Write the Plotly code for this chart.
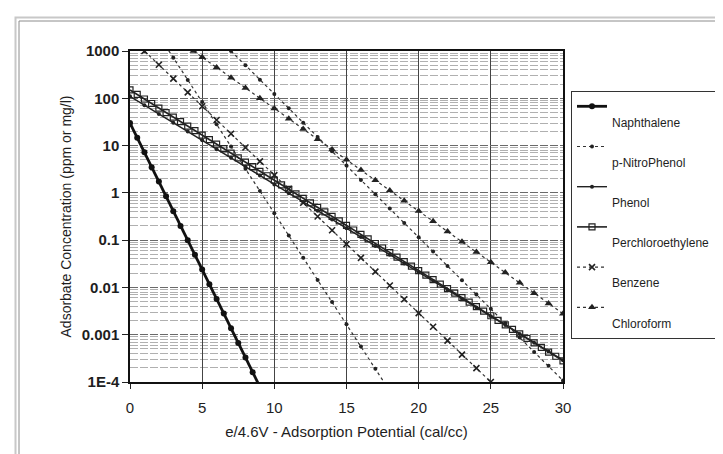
import plotly.graph_objects as go

# ---------------- data ----------------
x_naph = [0, 0.5, 1, 1.5, 2, 2.5, 3, 3.5, 4, 4.5, 5, 5.5, 6, 6.5, 7, 7.5, 8, 8.5, 9]
y_naph = [30, 14.7, 7.2, 3.5, 1.73, 0.85, 0.41, 0.20, 0.099, 0.049, 0.024, 0.0117,
          0.0057, 0.0028, 0.00137, 0.00067, 0.00033, 0.00016, 0.000079]

x_pnp = [2, 3, 4, 5, 6, 7, 8, 9, 10, 11, 12, 13, 14, 15, 16, 17, 18]
y_pnp = [2133, 723, 245, 83, 28.1, 9.5, 3.23, 1.09, 0.371, 0.126, 0.0426, 0.0144,
         0.00489, 0.00166, 0.00056, 0.00019, 0.000064]

x_phenol = list(range(0, 31))
y_phenol = [110, 71.4, 46.6, 30.3, 19.8, 12.9, 8.4, 5.5, 3.56, 2.32, 1.51, 0.986, 0.643,
            0.419, 0.273, 0.178, 0.116, 0.0755, 0.0492, 0.0321, 0.0209, 0.0136, 0.00887,
            0.00578, 0.00377, 0.00245, 0.0016, 0.00104, 0.00068, 0.00044, 0.00029]

x_perc = [0, 0.5, 1, 1.5, 2, 2.5, 3, 3.5, 4, 4.5, 5, 5.5, 6, 6.5, 7, 7.5, 8, 8.5, 9, 9.5,
          10, 10.5, 11, 11.5, 12, 12.5, 13, 13.5, 14, 14.5, 15, 15.5, 16, 16.5, 17, 17.5,
          18, 18.5, 19, 19.5, 20, 20.5, 21, 21.5, 22, 22.5, 23, 23.5, 24, 24.5, 25, 25.5,
          26, 26.5, 27, 27.5, 28, 28.5, 29, 29.5, 30]
y_perc = [150, 120.4, 96.6, 77.5, 62.2, 49.9, 40.1, 32.2, 25.8, 20.7, 16.6, 13.4, 10.7,
          8.6, 6.9, 5.5, 4.45, 3.57, 2.86, 2.30, 1.85, 1.48, 1.19, 0.954, 0.766, 0.614,
          0.493, 0.396, 0.318, 0.255, 0.205, 0.164, 0.132, 0.106, 0.0849, 0.0682, 0.0547,
          0.0439, 0.0352, 0.0283, 0.0227, 0.0182, 0.0146, 0.0117, 0.00942, 0.00756,
          0.00607, 0.00487, 0.00391, 0.00314, 0.00252, 0.00202, 0.00162, 0.00130,
          0.00104, 0.00084, 0.00067, 0.00054, 0.00043, 0.00035, 0.00028]

x_benz = list(range(1, 26))
y_benz = [1000, 511, 261, 133, 68, 34.8, 17.8, 9.1, 4.64, 2.37, 1.21, 0.619, 0.316,
          0.162, 0.0826, 0.0422, 0.0216, 0.011, 0.00562, 0.00287, 0.00147, 0.00075,
          0.00038, 0.000196, 0.0001]

x_chlf = [4.4, 5, 6, 7, 8, 9, 10, 11, 12, 13, 14, 15, 16, 17, 18, 19, 20, 21, 22, 23,
          24, 25, 26, 27, 28, 29, 30]
y_chlf = [1000, 741, 450, 273, 166, 100, 61, 37, 22.4, 13.6, 8.3, 5.0, 3.04, 1.85, 1.12,
          0.679, 0.412, 0.25, 0.152, 0.092, 0.0558, 0.0339, 0.0206, 0.0125, 0.00757,
          0.00459, 0.00279]

x_extra = list(range(7, 31))
y_extra = [1000, 498, 248, 123, 61.4, 30.5, 15.2, 7.57, 3.77, 1.87, 0.933, 0.465, 0.231,
           0.115, 0.0573, 0.0285, 0.0142, 0.00706, 0.00352, 0.00175, 0.00087, 0.00043,
           0.00022, 0.000107]

y_tick_vals = [0.0001, 0.001, 0.01, 0.1, 1, 10, 100, 1000]
y_tick_text = ["1E-4", "0.001", "0.01", "0.1", "1", "10", "100", "1000"]
x_tick_vals = [0, 5, 10, 15, 20, 25, 30]

FONT = "Liberation Sans, Arial, sans-serif"
INK = "#1e1e1e"

fig = go.Figure()

def add(x, y, name, line, marker, show=True):
    fig.add_trace(go.Scatter(
        x=x, y=y, name=name, legendgroup=name or "extra", showlegend=show,
        mode="lines+markers", line=line, marker=marker))

add(x_naph, y_naph, "<br>Naphthalene",
    dict(color="#111", width=2.8),
    dict(symbol="circle", size=6, color="#111"))
add(x_pnp, y_pnp, "<br>p-NitroPhenol",
    dict(color="#333", width=1.2, dash="dot"),
    dict(symbol="circle", size=4, color="#222"))
add(x_phenol, y_phenol, "<br>Phenol",
    dict(color="#222", width=1.4),
    dict(symbol="circle", size=4, color="#222"))
add(x_perc, y_perc, "<br>Perchloroethylene",
    dict(color="#222", width=1.6),
    dict(symbol="square-open", size=6, color="#222", line=dict(width=1.2)))
add(x_benz, y_benz, "<br>Benzene",
    dict(color="#333", width=1.2, dash="dot"),
    dict(symbol="x-thin", size=6, line=dict(width=1.6, color="#222")))
add(x_chlf, y_chlf, "<br>Chloroform",
    dict(color="#333", width=1.2, dash="dot"),
    dict(symbol="triangle-up", size=7, color="#222"))
add(x_extra, y_extra, "",
    dict(color="#333", width=1.2, dash="dot"),
    dict(symbol="circle", size=4, color="#222"), show=False)

# --- outer frame of the scanned picture (paper coordinates) ---
L, R, T, B = 122, 555, 43, 374
def px(xp):
    return (xp - L) / (R - L)
def py(yp):
    return (B - yp) / (B - T)

shapes = [
    dict(type="rect", xref="paper", yref="paper",
         x0=px(7.5), x1=px(721), y0=py(470), y1=py(9.5),
         line=dict(color="#c8c8c8", width=2), layer="below"),
    dict(type="rect", xref="paper", yref="paper",
         x0=px(11), x1=px(717), y0=py(470), y1=py(13),
         line=dict(color="#8c8c8c", width=1), layer="below"),
]

fig.update_layout(
    width=723, height=454, autosize=False,
    margin=dict(l=L, r=723 - R, t=T, b=454 - B),
    paper_bgcolor="white", plot_bgcolor="white",
    font=dict(family=FONT, color=INK, size=13),
    shapes=shapes,
    legend=dict(
        x=px(563), y=py(83), xanchor="left", yanchor="top",
        bordercolor="#333", borderwidth=1, bgcolor="white",
        font=dict(family=FONT, size=12, color=INK),
        valign="top", itemwidth=30, traceorder="grouped", tracegroupgap=6),
    xaxis=dict(
        range=[0, 30], tickvals=x_tick_vals, ticks="outside", ticklen=5,
        tickcolor="#222", showline=True, linecolor="#111", linewidth=1.5,
        mirror=True, showgrid=True, gridcolor="#444", gridwidth=1, zeroline=False,
        tickfont=dict(family=FONT, size=15, color=INK), ticklabelstandoff=6,
        title=dict(text="e/4.6V - Adsorption Potential (cal/cc)",
                   font=dict(family=FONT, size=15, color=INK), standoff=12)),
    yaxis=dict(
        type="log", range=[-4, 3], tickvals=y_tick_vals, ticktext=y_tick_text,
        ticks="outside", ticklen=6, tickcolor="#222",
        showline=True, linecolor="#111", linewidth=1.5, mirror=True,
        showgrid=True, gridcolor="#6a6a6a", griddash="8px,2px", gridwidth=1,
        zeroline=False,
        minor=dict(dtick="D1", showgrid=True, gridcolor="#b0b0b0",
                   gridwidth=1, ticks=""),
        tickfont=dict(family=FONT, size=15, color=INK, weight="bold"),
        title=dict(text="Adsorbate Concentration (ppm or mg/l)",
                   font=dict(family=FONT, size=14, color=INK), standoff=7)),
)

fig.write_html("out.html")
